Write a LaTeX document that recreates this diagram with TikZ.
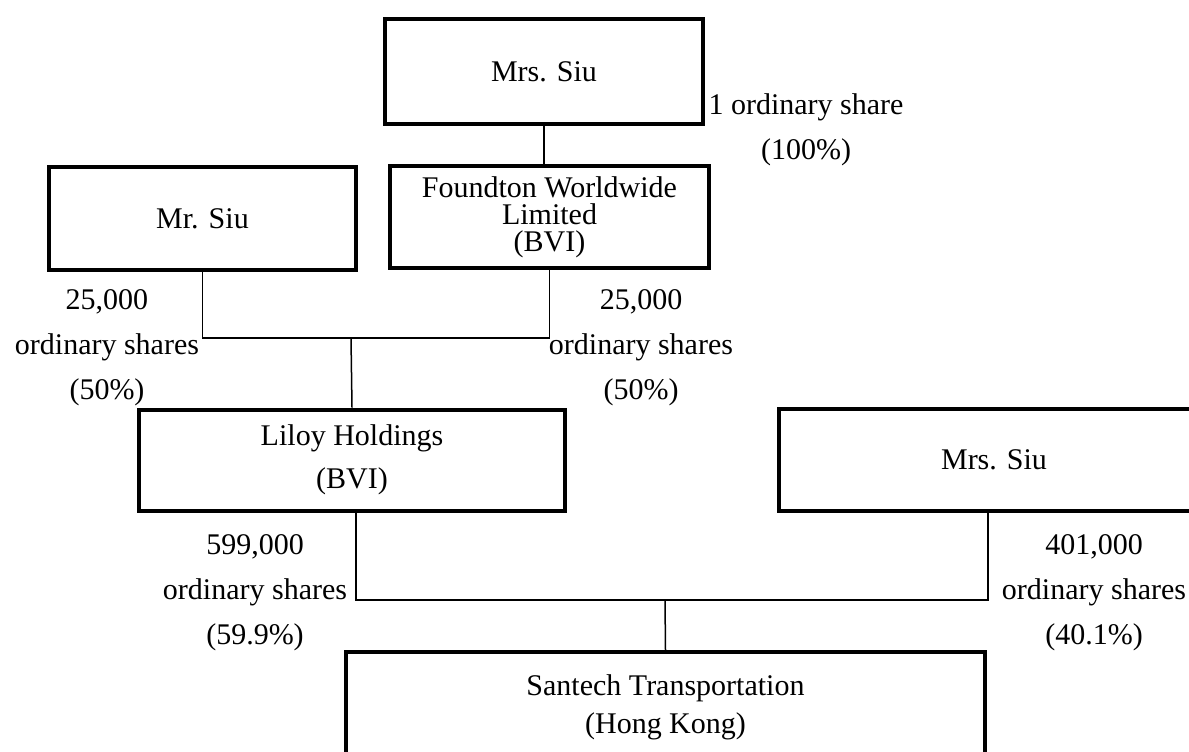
\documentclass[tikz,border=0pt]{standalone}
\usepackage{fontspec}
\setmainfont{Liberation Serif}
\usepackage{tikz}

\begin{document}
\begin{tikzpicture}[x=0.5pt,y=-0.5pt]
\tikzstyle{every node}+=[inner sep=0pt]
\tikzstyle{entity}=[draw=black, line width=2pt, align=center, font=\fontsize{15}{21.5}\selectfont]
\tikzstyle{holding}=[align=center, font=\fontsize{15}{22.5}\selectfont]
\tikzstyle{link}=[black, line width=0.75pt]
\useasboundingbox (0,0) rectangle (1189,751);
\clip (0,0) rectangle (1189,751);
\node [entity, minimum width=159pt, minimum height=52.5pt] (siutop) at (544,71.5) {Mrs. Siu};
\node [entity, minimum width=159.5pt, minimum height=51pt, font=\fontsize{15}{13.5}\selectfont] (foundton) at (549.5,217) {Foundton Worldwide\\Limited\\(BVI)};
\node [entity, minimum width=153.5pt, minimum height=51.5pt] (mrsiu) at (202.5,218.5) {Mr. Siu};
\node [entity, minimum width=213pt, minimum height=50.5pt] (liloy) at (352,460) {Liloy Holdings\\(BVI)};
\node [entity, minimum width=215pt, minimum height=51pt] (siuright) at (994,460) {Mrs. Siu};
\node [entity, minimum width=319.5pt, minimum height=55pt, font=\fontsize{15}{19}\selectfont] (santech) at (665.5,707) {Santech Transportation\\(Hong Kong)};
\node [holding] (share1) at (806,130) {1 ordinary share\\(100\%)};
\node [holding] (sharemr) at (107,348) {25,000\\ordinary shares\\(50\%)};
\node [holding] (sharefw) at (641,348) {25,000\\ordinary shares\\(50\%)};
\node [holding] (shareli) at (255,593) {599,000\\ordinary shares\\(59.9\%)};
\node [holding] (sharesr) at (1094,593) {401,000\\ordinary shares\\(40.1\%)};
\coordinate (upper) at (351,338);
\coordinate (lower) at (665,600);
\draw [link] (siutop.south) -- (siutop.south |- foundton.north);
\draw [link] (mrsiu.south) |- (upper) -| (foundton.south);
\draw [link] (upper) -- (liloy.north);
\draw [link] ([xshift=2pt]liloy.south) |- (lower) -| ([xshift=-3pt]siuright.south);
\draw [link] (lower) -- (santech.north);
\end{tikzpicture}
\end{document}
